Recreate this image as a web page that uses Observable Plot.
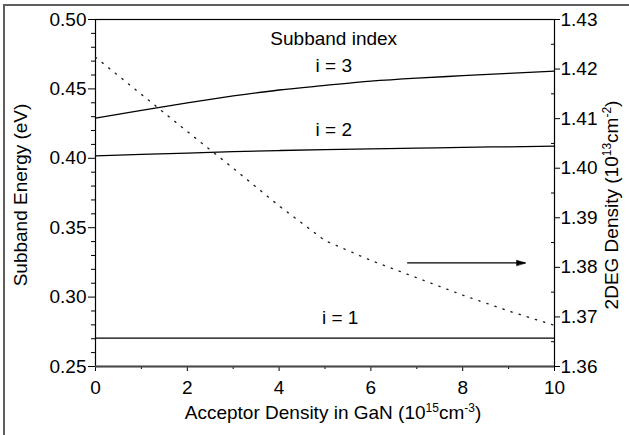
<!DOCTYPE html>
<html><head><meta charset="utf-8">
<script src="https://cdn.jsdelivr.net/npm/d3@7"></script>
<script src="https://cdn.jsdelivr.net/npm/@observablehq/plot@0.6"></script>
<style>
body{margin:0;background:#fff;}
#wrap{position:relative;width:629px;height:435px;overflow:hidden;background:#fff;}
#border{position:absolute;left:3px;top:3.5px;width:700px;height:500px;border-top:2px solid #5e5e5e;border-left:2px solid #5e5e5e;pointer-events:none;}
svg{display:block;}
</style></head><body><div id="wrap"><div id="border"></div></div>
<script>
// ---- data ----
const acceptorDensity = [0, 1, 2, 3, 4, 5, 6, 7, 8, 9, 10];           // 10^15 cm^-3
const energyI1 = [0.2705, 0.2705, 0.2705, 0.2705, 0.2704, 0.2704, 0.2704, 0.2704, 0.2704, 0.2704, 0.2704];
const energyI2 = [0.4018, 0.4028, 0.4038, 0.4048, 0.4056, 0.4063, 0.4068, 0.4073, 0.4079, 0.4083, 0.4087];
const energyI3 = [0.4289, 0.4346, 0.4400, 0.4449, 0.4492, 0.4525, 0.4556, 0.4578, 0.4595, 0.4612, 0.4628];
const density2DEG = [1.4224, 1.4149, 1.4074, 1.4000, 1.3924, 1.3854, 1.3814, 1.3779, 1.3744, 1.3712, 1.3683]; // 10^13 cm^-2

const xMajorTicks = [0, 2, 4, 6, 8, 10];
const xMinorTicks = [1, 3, 5, 7, 9];
const energyMajorTicks = [0.25, 0.30, 0.35, 0.40, 0.45, 0.50];
const energyTickLabels = ["0.25", "0.30", "0.35", "0.40", "0.45", "0.50"];
const energyMinorTicks = [0.26,0.27,0.28,0.29,0.31,0.32,0.33,0.34,0.36,0.37,0.38,0.39,0.41,0.42,0.43,0.44,0.46,0.47,0.48,0.49];
const densityMajorTicks = [1.36, 1.37, 1.38, 1.39, 1.40, 1.41, 1.42, 1.43];
const densityTickLabels = ["1.36", "1.37", "1.38", "1.39", "1.40", "1.41", "1.42", "1.43"];
const densityMinorTicks = [1.365, 1.375, 1.385, 1.395, 1.405, 1.415, 1.425];

const subbandLabels = [
  {text: "Subband index", x: 5.19, energy: 0.4813},
  {text: "i = 3", x: 5.19, energy: 0.4625},
  {text: "i = 2", x: 5.19, energy: 0.4164},
  {text: "i = 1", x: 5.33, energy: 0.2803}
];
const arrowNote = [{x1: 6.80, x2: 9.37, density: 1.3809}];

// ---- helpers: map density (right axis) onto the energy (left) scale ----
const eDomain = [0.25, 0.50], dDomain = [1.36, 1.43];
const toLeft = d => eDomain[0] + (d - dDomain[0]) / (dDomain[1] - dDomain[0]) * (eDomain[1] - eDomain[0]);

const series = (vals, name) => acceptorDensity.map((x, i) => ({x, v: vals[i], name}));
const solid = [...series(energyI1, "i1"), ...series(energyI2, "i2"), ...series(energyI3, "i3")];
const dens = acceptorDensity.map((x, i) => ({x, d: density2DEG[i]}));

const FONT = "'Liberation Sans', Arimo, Arial, sans-serif";
const FS = 19;

const headShape = {draw(ctx, l) { ctx.moveTo(0, -l); ctx.lineTo(-2.6, 0); ctx.lineTo(2.6, 0); ctx.closePath(); }};

const chart = Plot.plot({
  width: 629, height: 435,
  marginLeft: 95, marginRight: 75, marginTop: 19, marginBottom: 69,
  style: {fontFamily: FONT, fontSize: FS + "px", color: "black", background: "white"},
  x: {domain: [0, 10]},
  y: {domain: eDomain},
  marks: [
    // axes
    Plot.axisX({ticks: xMajorTicks, tickSize: 5, tickPadding: 9, label: null, fontSize: FS, tickFormat: d => String(d)}),
    Plot.axisX({ticks: xMinorTicks, tickSize: 3, label: null, tickFormat: () => ""}),
    Plot.axisY({ticks: energyMajorTicks, tickSize: 7, tickPadding: 2, label: null, fontSize: FS,
      tickFormat: d => energyTickLabels[energyMajorTicks.findIndex(t => Math.abs(t - d) < 1e-9)]}),
    Plot.axisY({ticks: energyMinorTicks, tickSize: 4, label: null, tickFormat: () => ""}),
    Plot.axisY({anchor: "right", ticks: densityMajorTicks.map(toLeft), tickSize: 5, tickPadding: 1, label: null, fontSize: FS,
      tickFormat: d => densityTickLabels[densityMajorTicks.findIndex(t => Math.abs(toLeft(t) - d) < 1e-9)]}),
    Plot.axisY({anchor: "right", ticks: densityMinorTicks.map(toLeft), tickSize: -4, label: null, tickFormat: () => ""}),
    Plot.frame({stroke: "black", strokeWidth: 1.2}),
    Plot.ruleY([eDomain[0]], {stroke: "#4a4a4a", strokeWidth: 2}),
    // subband energies
    Plot.line(solid, {x: "x", y: "v", z: "name", stroke: "black", strokeWidth: 1.3, curve: "monotone-x"}),
    // 2DEG density (right axis)
    Plot.line(dens, {x: "x", y: d => toLeft(d.d), stroke: "#222", strokeWidth: 1.4, strokeDasharray: "1.3 7.2"}),
    // arrow
    Plot.ruleY(arrowNote, {x1: "x1", x2: "x2", y: d => toLeft(d.density), stroke: "black", strokeWidth: 1.4}),
    Plot.vector(arrowNote, {x: "x2", y: d => toLeft(d.density), rotate: 90, length: 9, anchor: "end", shape: headShape, fill: "black", stroke: "black", strokeWidth: 0.6}),
    // labels
    Plot.text(subbandLabels, {x: "x", y: "energy", text: "text", lineAnchor: "bottom", textAnchor: "middle", fontSize: FS, fill: "black"})
  ]
});

const svg = d3.select(chart);
function supLabel(parts, attrs) {
  const t = svg.append("text").attr("font-family", FONT).attr("font-size", FS).attr("fill", "black");
  Object.entries(attrs).forEach(([k, v]) => t.attr(k, v));
  let shift = 0;
  parts.forEach(([s, sup]) => {
    const sp = t.append("tspan").text(s);
    if (sup) { sp.attr("font-size", 12).attr("dy", -7 - shift); shift = -7; }
    else { if (shift) sp.attr("dy", -shift); shift = 0; }
  });
  return t;
}
supLabel([["Acceptor Density in GaN (10"], ["15", true], ["cm"], ["-3", true], [")"]],
  {x: 333, y: 419, "text-anchor": "middle"});
supLabel([["Subband Energy (eV)"]],
  {transform: "translate(27,195) rotate(-90)", "text-anchor": "middle"});
supLabel([["2DEG Density (10"], ["13", true], ["cm"], ["-2", true], [")"]],
  {transform: "translate(618,205) rotate(-90)", "text-anchor": "middle"});

document.getElementById("wrap").prepend(chart);
</script></body></html>
